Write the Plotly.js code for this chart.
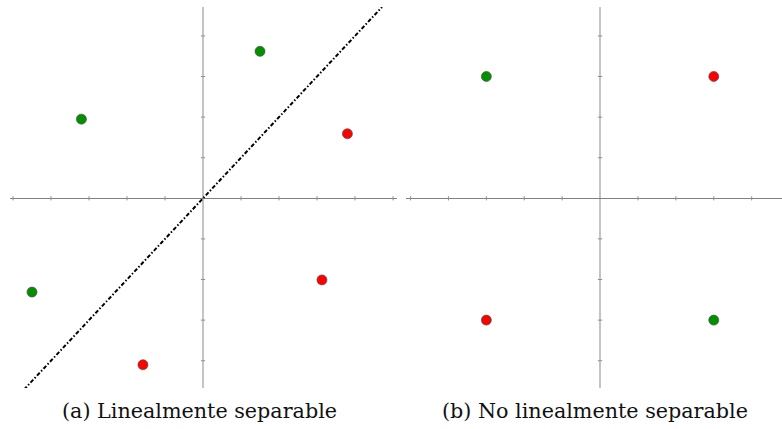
<!DOCTYPE html>
<html>
<head>
<meta charset="utf-8">
<script src="https://cdn.plot.ly/plotly-3.0.1.min.js"></script>
<style>html,body{margin:0;padding:0;background:#fff;}#chart{width:782px;height:429px;}</style>
</head>
<body>
<div id="chart"></div>
<script>
// Panel (a): linearly separable
const aGreenX = [-3.2, 1.5, -4.5];
const aGreenY = [1.95, 3.62, -2.31];
const aRedX = [3.8, 3.13, -1.58];
const aRedY = [1.59, -2.01, -4.1];
const sepX = [-4.71, 4.71];
const sepY = [-4.71, 4.71];
// Panel (b): not linearly separable (XOR)
const bGreenX = [-3, 3];
const bGreenY = [3, -3];
const bRedX = [3, -3];
const bRedY = [3, -3];
// tick positions
const xTicksA = [-5, -4, -3, -2, -1, 1, 2, 3, 4, 5];
const xTicksB = [-5, -4, -3, -2, -1, 1, 2, 3, 4];
const yTicks = [-4, -3, -2, -1, 1, 2, 3, 4];
const captions = ["(a) Linealmente separable", "(b) No linealmente separable"];

const green = '#009000', red = '#ff0000';
const mk = c => ({size: 10, color: c, line: {color: '#505050', width: 0.7}});
const tickMk = sym => ({symbol: sym, size: 3, line: {color: '#909090', width: 1}, color: '#909090'});

const traces = [
  {x: xTicksA, y: xTicksA.map(() => 0), xaxis: 'x', yaxis: 'y', mode: 'markers', marker: tickMk('line-ns'), hoverinfo: 'skip'},
  {x: yTicks.map(() => 0), y: yTicks, xaxis: 'x', yaxis: 'y', mode: 'markers', marker: tickMk('line-ew'), hoverinfo: 'skip'},
  {x: xTicksB, y: xTicksB.map(() => 0), xaxis: 'x2', yaxis: 'y2', mode: 'markers', marker: tickMk('line-ns'), hoverinfo: 'skip'},
  {x: yTicks.map(() => 0), y: yTicks, xaxis: 'x2', yaxis: 'y2', mode: 'markers', marker: tickMk('line-ew'), hoverinfo: 'skip'},
  {x: sepX, y: sepY, xaxis: 'x', yaxis: 'y', mode: 'lines', line: {color: '#000', width: 2, dash: '4px,2px,1.5px,2px'}},
  {x: aGreenX, y: aGreenY, xaxis: 'x', yaxis: 'y', mode: 'markers', marker: mk(green)},
  {x: aRedX, y: aRedY, xaxis: 'x', yaxis: 'y', mode: 'markers', marker: mk(red)},
  {x: bGreenX, y: bGreenY, xaxis: 'x2', yaxis: 'y2', mode: 'markers', marker: mk(green)},
  {x: bRedX, y: bRedY, xaxis: 'x2', yaxis: 'y2', mode: 'markers', marker: mk(red)}
];

const W = 782, H = 429;
const xax = (d, r) => ({domain: d, range: r, showgrid: false, showticklabels: false, ticks: '', showline: false,
  zeroline: true, zerolinecolor: '#c4c4c4', zerolinewidth: 2, fixedrange: true});
const yax = (anchor) => ({domain: [1 - 388 / H, 1 - 7 / H], range: [-4.672, 4.712], anchor: anchor, showgrid: false,
  showticklabels: false, ticks: '', showline: false, zeroline: true, zerolinecolor: '#808080', zerolinewidth: 1, fixedrange: true});

const capFont = {family: 'DejaVu Serif', size: 20.7, color: '#111'};
const layout = {
  width: W, height: H,
  margin: {l: 0, r: 0, t: 0, b: 0},
  paper_bgcolor: '#fff', plot_bgcolor: 'rgba(0,0,0,0)',
  showlegend: false,
  font: {family: 'DejaVu Serif'},
  xaxis: xax([10 / W, 397 / W], [-5.079, 5.105]),
  yaxis: yax('x'),
  xaxis2: Object.assign(xax([406 / W, 1], [-5.12, 4.80]), {anchor: 'y2'}),
  yaxis2: yax('x2'),
  annotations: [
    {text: captions[0], xref: 'paper', yref: 'paper', x: 199 / W, y: 1 - 411 / H, xanchor: 'center', yanchor: 'middle', showarrow: false, font: capFont},
    {text: captions[1], xref: 'paper', yref: 'paper', x: 595 / W, y: 1 - 411 / H, xanchor: 'center', yanchor: 'middle', showarrow: false, font: capFont}
  ]
};
Plotly.newPlot('chart', traces, layout, {staticPlot: true});
</script>
</body>
</html>
